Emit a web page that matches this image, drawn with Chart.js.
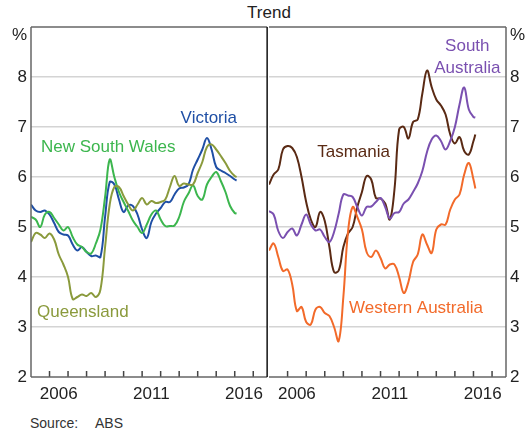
<!DOCTYPE html>
<html lang="en">
<head>
<meta charset="UTF-8">
<title>Unemployment Rates by State</title>
<script src="https://cdn.jsdelivr.net/npm/chart.js"></script>
<style>
    body { margin: 0; background: #fff; font-family: 'Liberation Sans', Arial, sans-serif; }
    #wrap { position: relative; width: 532px; height: 431px; overflow: hidden; }
    #leftChart { position: absolute; left: 0; top: 0; }
    #rightChart { position: absolute; left: 268px; top: 0; }
    #title { position: absolute; left: 169px; top: 3px; width: 200px; text-align: center; font-size: 17px; line-height: 20px; color: #222; }
    #source { position: absolute; left: 30px; top: 414px; font-size: 14px; line-height: 18px; color: #333; }
    #sourceName { position: absolute; left: 95px; top: 414px; font-size: 14px; line-height: 18px; color: #333; }
</style>
</head>
<body>
<div id="wrap">
    <div id="title">Trend</div>
    <canvas id="leftChart" width="270" height="410"></canvas>
    <canvas id="rightChart" width="264" height="410"></canvas>
    <div id="source">Source:</div>
    <div id="sourceName">ABS</div>
</div>

<script>
    // quarterly points (decimal years), last one is Jan 2016
    const years = [
        2005, 2005.25, 2005.5, 2005.75, 2006, 2006.25, 2006.5, 2006.75,
        2007, 2007.25, 2007.5, 2007.75, 2008, 2008.25, 2008.5, 2008.75,
        2009, 2009.25, 2009.5, 2009.75, 2010, 2010.25, 2010.5, 2010.75,
        2011, 2011.25, 2011.5, 2011.75, 2012, 2012.25, 2012.5, 2012.75,
        2013, 2013.25, 2013.5, 2013.75, 2014, 2014.25, 2014.5, 2014.75,
        2015, 2015.25, 2015.5, 2015.75, 2016, 2016.1
    ];

    const newSouthWales = [
        5.2, 5.15, 5.0, 5.25, 5.3, 5.18, 5.05, 4.93,
        5.0, 4.8, 4.65, 4.6, 4.5, 4.47, 4.67, 4.95,
        5.6, 6.35, 6.0, 5.7, 5.5, 5.32, 5.13, 5.0,
        4.88, 5.05, 5.25, 5.33, 5.15, 5.02, 5.02, 5.03,
        5.2, 5.5, 5.67, 5.83, 5.62, 5.55, 5.85, 6.0,
        6.1, 5.92, 5.7, 5.42, 5.28, 5.27
    ];
    const victoria = [
        5.45, 5.33, 5.3, 5.33, 5.25, 5.08, 4.9, 4.85,
        4.83, 4.65, 4.53, 4.6, 4.5, 4.42, 4.43, 4.4,
        5.2, 5.9, 5.85, 5.55, 5.3, 5.43, 5.42, 5.25,
        4.95, 4.78, 5.1, 5.27, 5.38, 5.5, 5.5, 5.65,
        5.77, 5.79, 5.85, 6.15, 6.35, 6.55, 6.78, 6.55,
        6.2, 6.13, 6.08, 6.02, 5.95, 5.93
    ];
    const queensland = [
        4.7, 4.88, 4.85, 4.78, 4.87, 4.75, 4.45, 4.25,
        4.0, 3.56, 3.6, 3.65, 3.62, 3.68, 3.6, 3.75,
        4.6, 5.45, 5.8, 5.8, 5.62, 5.45, 5.33, 5.45,
        5.58, 5.45, 5.52, 5.48, 5.5, 5.55, 5.8, 6.02,
        5.82, 5.87, 5.85, 5.85, 6.08, 6.3, 6.6, 6.65,
        6.55, 6.42, 6.28, 6.12, 6.02, 6.0
    ];
    const tasmania = [
        5.85, 6.05, 6.15, 6.55, 6.62, 6.58, 6.4, 6.0,
        5.5, 5.15, 5.0, 5.3, 5.12, 4.6, 4.1, 4.13,
        4.6, 4.87, 5.0, 5.4, 5.7, 6.02, 5.95, 5.58,
        5.57, 5.47, 5.15, 5.75, 6.95, 7.0, 6.77, 7.1,
        7.15, 7.67, 8.13, 7.8, 7.55, 7.43, 7.25, 6.85,
        6.67, 6.8, 6.52, 6.45, 6.72, 6.85
    ];
    const southAustralia = [
        5.32, 5.25, 4.92, 4.78, 4.9, 4.97, 4.83, 5.05,
        5.25, 5.05, 4.93, 4.95, 4.8, 4.7, 4.9, 5.27,
        5.65, 5.63, 5.6, 5.4, 5.23, 5.4, 5.41, 5.5,
        5.58, 5.4, 5.17, 5.28, 5.3, 5.47, 5.55, 5.7,
        5.87, 6.12, 6.5, 6.75, 6.83, 6.72, 6.55, 6.72,
        7.0, 7.45, 7.79, 7.35, 7.2, 7.19
    ];
    const westernAustralia = [
        4.53, 4.67, 4.4, 4.12, 4.15, 3.85, 3.32, 3.4,
        3.1, 3.05, 3.35, 3.4, 3.28, 3.22, 3.0, 2.72,
        3.6, 4.9, 5.4, 5.2, 4.95, 4.5, 4.4, 4.53,
        4.38, 4.17, 4.25, 4.25, 4.0, 3.68, 3.9, 4.3,
        4.45, 4.85, 4.65, 4.48, 4.95, 5.05, 5.05, 5.35,
        5.55, 5.65, 6.05, 6.28, 5.95, 5.77
    ];

    const yearLabels = [2006, 2011, 2016];
    const yearTicks = [2006, 2007, 2008, 2009, 2010, 2011, 2012, 2013, 2014, 2015, 2016, 2017];
    const yMin = 2, yMax = 9;

    Chart.defaults.font.family = "'Liberation Sans', Arial, sans-serif";
    Chart.defaults.font.size = 17;
    Chart.defaults.color = '#222';

    function series(values, color) {
        return {
            data: years.map((x, i) => ({ x: x, y: values[i] })),
            borderColor: color,
            borderWidth: 2,
            pointRadius: 0,
            tension: 0.4,
            fill: false
        };
    }

    // frame, inner year ticks, "%" and the series names
    const panelPlugin = {
        id: 'panel',
        afterDatasetsDraw(chart, args, opts) {
            const { ctx, chartArea: a, scales } = chart;
            ctx.save();
            ctx.lineWidth = 1.5;
            ctx.strokeStyle = '#444';
            ctx.beginPath();
            yearTicks.forEach(yr => {
                const px = scales.x.getPixelForValue(yr);
                ctx.moveTo(px, a.bottom);
                ctx.lineTo(px, a.bottom - 6);
            });
            ctx.stroke();

            const sides = opts.sides;
            const line = (color, x1, y1, x2, y2) => {
                ctx.strokeStyle = color;
                ctx.beginPath();
                ctx.moveTo(x1, y1);
                ctx.lineTo(x2, y2);
                ctx.stroke();
            };
            if (sides.top) line(sides.top, a.left, a.top, a.right, a.top);
            if (sides.bottom) line(sides.bottom, a.left, a.bottom, a.right, a.bottom);
            if (sides.left) line(sides.left, a.left, a.top, a.left, a.bottom);
            if (sides.right) line(sides.right, a.right, a.top, a.right, a.bottom);

            ctx.font = "17px 'Liberation Sans', Arial, sans-serif";
            ctx.textBaseline = 'middle';
            ctx.fillStyle = '#222';
            if (opts.percent === 'left') {
                ctx.textAlign = 'right';
                ctx.fillText('%', a.left - 4, a.top + 8);
            } else {
                ctx.textAlign = 'left';
                ctx.fillText('%', a.right + 4, a.top + 8);
            }

            ctx.textAlign = 'center';
            opts.labels.forEach(l => {
                ctx.fillStyle = l.color;
                ctx.fillText(l.text, scales.x.getPixelForValue(l.x), scales.y.getPixelForValue(l.y));
            });
            ctx.restore();
        }
    };

    function panelOptions(side, padding, axisWidth, sides, labels) {
        return {
            responsive: false,
            animation: false,
            layout: { padding: padding },
            plugins: {
                legend: { display: false },
                tooltip: { enabled: false },
                panel: { sides: sides, percent: side, labels: labels }
            },
            scales: {
                x: {
                    type: 'linear',
                    min: 2005,
                    max: 2017.75,
                    afterBuildTicks: s => { s.ticks = yearLabels.map(v => ({ value: v + 0.5 })); },
                    afterFit: s => { s.height = 33; },
                    ticks: {
                        autoSkip: false,
                        maxRotation: 0,
                        padding: 7,
                        callback: v => String(Math.floor(v))
                    },
                    grid: { display: false, drawTicks: false },
                    border: { display: false }
                },
                y: {
                    position: side,
                    min: yMin,
                    max: yMax,
                    afterFit: s => { s.width = axisWidth; },
                    ticks: {
                        stepSize: 1,
                        padding: 4,
                        callback: v => (v === yMax ? '' : String(v))
                    },
                    grid: {
                        drawTicks: false,
                        lineWidth: 1.5,
                        color: c => (c.tick && c.tick.value > yMin && c.tick.value < yMax ? '#d4d4d4' : 'rgba(0,0,0,0)')
                    },
                    border: { display: false }
                }
            }
        };
    }

    new Chart(document.getElementById('leftChart'), {
        type: 'line',
        data: {
            datasets: [
                series(queensland, '#8a9a3c'),
                series(newSouthWales, '#3cb64e'),
                series(victoria, '#1f4fa5')
            ]
        },
        options: panelOptions('left', { top: 27, right: 1, left: 0, bottom: 0 }, 31,
            { top: '#666', bottom: '#666', left: '#666', right: '#111' },
            [
                { text: 'Victoria', x: 2014.6, y: 7.17, color: '#1f4fa5' },
                { text: 'New South Wales', x: 2009.17, y: 6.59, color: '#3cb64e' },
                { text: 'Queensland', x: 2007.8, y: 3.3, color: '#8a9a3c' }
            ]),
        plugins: [panelPlugin]
    });

    new Chart(document.getElementById('rightChart'), {
        type: 'line',
        data: {
            datasets: [
                series(westernAustralia, '#f26a2a'),
                series(southAustralia, '#7a50b0'),
                series(tasmania, '#5a2a14')
            ]
        },
        options: panelOptions('right', { top: 27, right: 0, left: 1, bottom: 0 }, 26,
            { top: '#666', bottom: '#666', right: '#666' },
            [
                { text: 'Tasmania', x: 2009.55, y: 6.5, color: '#5a2a14' },
                { text: 'South', x: 2015.67, y: 8.61, color: '#7a50b0' },
                { text: 'Australia', x: 2015.67, y: 8.17, color: '#7a50b0' },
                { text: 'Western Australia', x: 2012.91, y: 3.38, color: '#f26a2a' }
            ]),
        plugins: [panelPlugin]
    });
</script>
</body>
</html>
